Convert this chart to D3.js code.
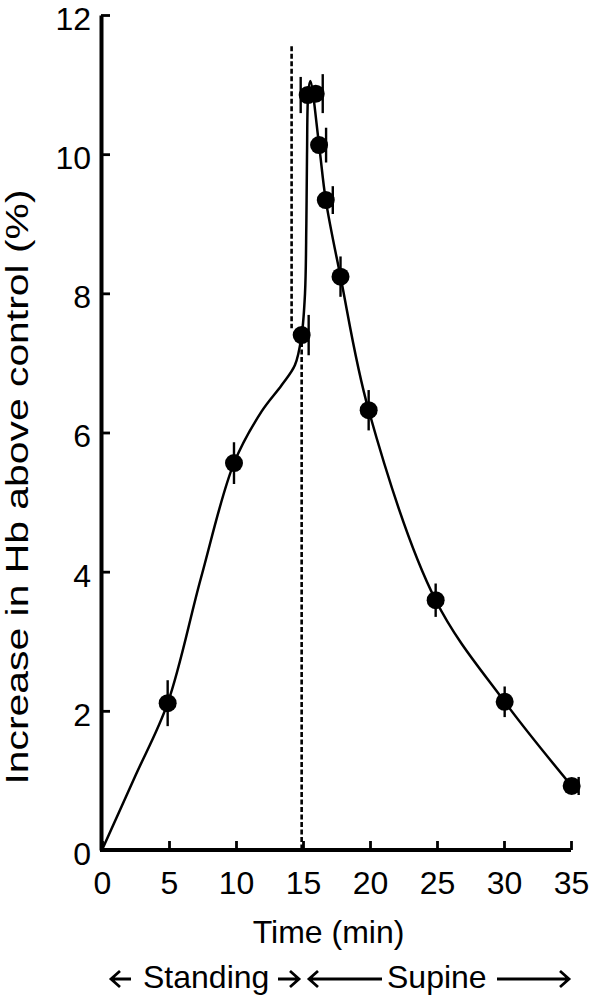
<!DOCTYPE html>
<html>
<head>
<meta charset="utf-8">
<script src="https://cdn.jsdelivr.net/npm/d3@7"></script>
<style>
  body { margin: 0; background: #fff; }
  text { font-family: "Liberation Sans", Arial, sans-serif; fill: #000; }
</style>
</head>
<body>
<div id="chart"></div>
<script>
// measured points (time in min, % increase in Hb above control, SEM)
var times      = [4.9, 9.85, 14.9, 15.35, 15.95, 16.2, 16.7, 17.8, 19.9, 24.9, 30.05, 35.05];
var hbIncrease = [2.11, 5.56, 7.40, 10.85, 10.87, 10.13, 9.34, 8.24, 6.32, 3.59, 2.13, 0.92];
var hbError    = [0.33, 0.30, 0.29, 0.26, 0.28, 0.25, 0.20, 0.29, 0.29, 0.24, 0.22, 0.13];
// which side of the dot the error bar sits on (-1 left, 0 centred, 1 right)
var errSide    = [0, 0, 1, -1, 1, 1, 1, 0, 0, 0, 0, 1];

// hand drawn fitted curve
var curveTimes  = [0, 2.5, 4.9, 7.4, 9.85, 11.9, 13.4, 14.4, 14.9, 15.15, 15.25, 15.3, 15.4, 15.55, 16.2, 16.7, 17.8, 19.9, 24.9, 30.05, 35.05];
var curveValues = [0, 1.07, 2.11, 3.92, 5.56, 6.3, 6.68, 6.97, 7.40, 8.0, 9.0, 10.0, 10.9, 11.05, 10.13, 9.34, 8.24, 6.32, 3.59, 2.13, 0.92];

// dashed marker for the change of posture
var dashTimes  = [14.15, 14.15, 14.9, 14.9];
var dashValues = [11.55, 7.5, 7.3, 0];

var xTicks = [0, 5, 10, 15, 20, 25, 30, 35];
var yTicks = [0, 2, 4, 6, 8, 10, 12];

var width = 596, height = 1001;

var svg = d3.select('#chart').append('svg')
    .attr('width', width)
    .attr('height', height);

var x = d3.scaleLinear().domain([0, 35]).range([102, 571]);
var y = d3.scaleLinear().domain([0, 12]).range([850, 15]);

// axes
var xAxis = svg.append('g')
    .attr('transform', 'translate(0,' + y(0) + ')')
    .call(d3.axisBottom(x).tickValues(xTicks).tickSizeInner(-9).tickSizeOuter(0).tickPadding(30));
xAxis.select('.domain').attr('stroke-width', 4).attr('d', 'M' + (x(0) - 2) + ',0H' + x(35));
xAxis.selectAll('.tick line').attr('stroke-width', 2.8);
xAxis.selectAll('.tick text').attr('font-size', 32).attr('dy', '0.45em');

var yAxis = svg.append('g')
    .attr('transform', 'translate(' + (x(0) - 1) + ',0)')
    .call(d3.axisLeft(y).tickValues(yTicks).tickSizeInner(-9).tickSizeOuter(0).tickPadding(10));
yAxis.select('.domain').attr('stroke-width', 4);
yAxis.selectAll('.tick line').attr('stroke-width', 2.8);
yAxis.selectAll('.tick text').attr('font-size', 32).attr('dy', '0.45em');
yAxis.selectAll('.tick').filter(function(d) { return d === 0; }).select('line').remove();

svg.selectAll('.domain, .tick line').attr('stroke', '#000');

// dashed marker
var dashData = dashTimes.map(function(t, i) { return [t, dashValues[i]]; });
[dashData.slice(0, 2), dashData.slice(2, 4)].forEach(function(seg) {
    svg.append('path')
        .attr('d', d3.line().x(function(d) { return x(d[0]); }).y(function(d) { return y(d[1]); })(seg))
        .attr('fill', 'none')
        .attr('stroke', '#000')
        .attr('stroke-width', 2.6)
        .attr('stroke-dasharray', '5,2.5');
});

// fitted curve
var curveData = curveTimes.map(function(t, i) { return [t, curveValues[i]]; });
svg.append('path')
    .attr('d', d3.line()
        .x(function(d) { return x(d[0]); })
        .y(function(d) { return y(d[1]); })
        .curve(d3.curveCatmullRom.alpha(0.5))(curveData))
    .attr('fill', 'none')
    .attr('stroke', '#000')
    .attr('stroke-width', 2.5);

var points = times.map(function(t, i) {
    return { t: t, v: hbIncrease[i], e: hbError[i], side: errSide[i] };
});

// error bars
svg.selectAll('.err')
    .data(points)
    .enter()
    .append('line')
    .attr('class', 'err')
    .attr('x1', function(d) { return x(d.t) + d.side * 7; })
    .attr('x2', function(d) { return x(d.t) + d.side * 7; })
    .attr('y1', function(d) { return y(d.v + d.e); })
    .attr('y2', function(d) { return y(d.v - d.e); })
    .attr('stroke', '#000')
    .attr('stroke-width', 2.4);

// dots
svg.selectAll('.dot')
    .data(points)
    .enter()
    .append('circle')
    .attr('class', 'dot')
    .attr('cx', function(d) { return x(d.t); })
    .attr('cy', function(d) { return y(d.v); })
    .attr('r', 9)
    .attr('fill', '#000');

// axis titles
svg.append('text')
    .attr('transform', 'translate(28,487) rotate(-90)')
    .attr('text-anchor', 'middle')
    .attr('font-size', 31)
    .attr('textLength', 595)
    .attr('lengthAdjust', 'spacingAndGlyphs')
    .text('Increase in Hb above control (%)');

svg.append('text')
    .attr('x', x(17.5) - 8)
    .attr('y', 943)
    .attr('text-anchor', 'middle')
    .attr('font-size', 32)
    .text('Time (min)');

// posture labels with arrows
var labelY = 988, arrowY = 979;
svg.append('text').attr('x', 143).attr('y', labelY).attr('font-size', 32).text('Standing');
svg.append('text').attr('x', 387).attr('y', labelY).attr('font-size', 32).text('Supine');

function arrow(x1, x2) {
    // head at x2
    var dir = x2 > x1 ? -1 : 1;
    svg.append('path')
        .attr('d', 'M' + x1 + ',' + arrowY + 'H' + x2 +
            'M' + (x2 + dir * 9) + ',' + (arrowY - 8) + 'L' + x2 + ',' + arrowY + 'L' + (x2 + dir * 9) + ',' + (arrowY + 8))
        .attr('fill', 'none')
        .attr('stroke', '#000')
        .attr('stroke-width', 2.8);
}
arrow(131, 111);
arrow(278, 299);
arrow(382, 309);
arrow(497, 569);
</script>
</body>
</html>
